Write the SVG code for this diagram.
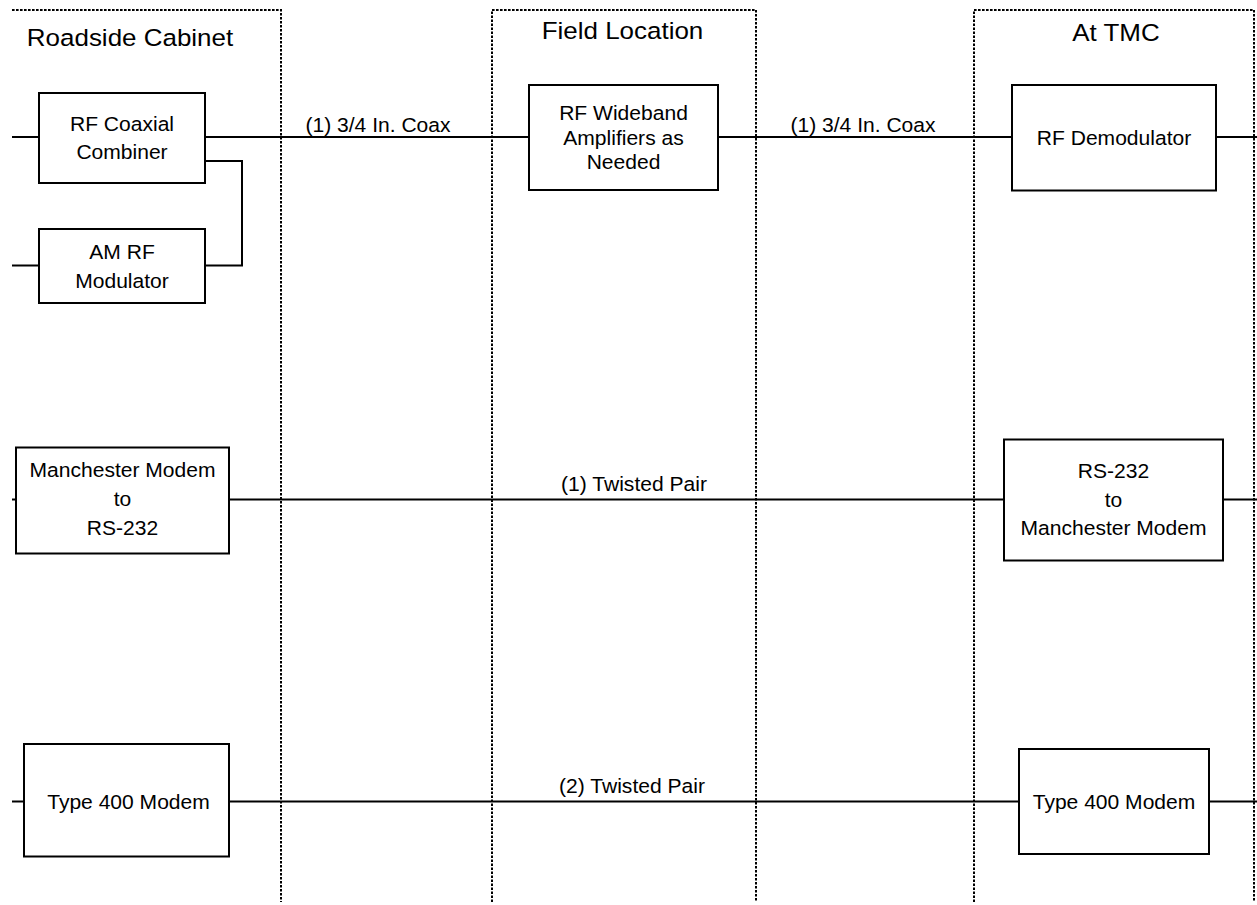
<svg xmlns="http://www.w3.org/2000/svg" width="1257" height="905" viewBox="0 0 1257 905">
<style>
.bg{fill:#fff}
.zone{fill:none;stroke:#000;stroke-width:2;stroke-dasharray:2.6,1.4}
.box{fill:#fff;stroke:#000;stroke-width:2}
.wire{fill:none;stroke:#000;stroke-width:2}
text{font-family:"Liberation Sans",Arial,Helvetica,sans-serif;fill:#000;text-anchor:middle}
.t{font-size:19.5px}
.h{font-size:24.5px}
</style>
<rect class="bg" x="0" y="0" width="1257" height="905"/>
<g id="zones">
<path class="zone" d="M12,10 H281 V902"/>
<path class="zone" d="M492,902 V10 H756 V902"/>
<path class="zone" d="M974,902 V10 H1254 V902"/>
<text class="h" transform="translate(130,45.5) scale(1.06,1)">Roadside Cabinet</text>
<text class="h" transform="translate(622.5,39.3) scale(1.06,1)">Field Location</text>
<text class="h" transform="translate(1116,40.7) scale(1.06,1)">At TMC</text>
</g>
<g id="connectors">
<path class="wire" d="M12,137 H39"/>
<path class="wire" d="M205,137 H529"/>
<path class="wire" d="M718,137 H1012"/>
<path class="wire" d="M1216,137 H1257"/>
<path class="wire" d="M205,161 H242 V265.5 H205"/>
<path class="wire" d="M12,265.5 H39"/>
<path class="wire" d="M12,499.5 H16"/>
<path class="wire" d="M229,499.5 H1004"/>
<path class="wire" d="M1223,499.5 H1257"/>
<path class="wire" d="M12,801.5 H24"/>
<path class="wire" d="M229,801.5 H1019"/>
<path class="wire" d="M1209,801.5 H1257"/>
<text class="t" transform="translate(378,131.5) scale(1.08,1)">(1) 3/4 In. Coax</text>
<text class="t" transform="translate(863,131.5) scale(1.08,1)">(1) 3/4 In. Coax</text>
<text class="t" transform="translate(634,490.5) scale(1.08,1)">(1) Twisted Pair</text>
<text class="t" transform="translate(632,793) scale(1.08,1)">(2) Twisted Pair</text>
</g>
<g id="rf-coaxial-combiner">
<rect class="box" x="39" y="93" width="166" height="90"/>
<text class="t" transform="translate(122,130.5) scale(1.08,1)">RF Coaxial</text>
<text class="t" transform="translate(122,159) scale(1.08,1)">Combiner</text>
</g>
<g id="am-rf-modulator">
<rect class="box" x="39" y="229" width="166" height="74"/>
<text class="t" transform="translate(122,259) scale(1.08,1)">AM RF</text>
<text class="t" transform="translate(122,287.5) scale(1.08,1)">Modulator</text>
</g>
<g id="rf-wideband-amplifiers">
<rect class="box" x="529" y="85" width="189" height="105"/>
<text class="t" transform="translate(623.5,120) scale(1.08,1)">RF Wideband</text>
<text class="t" transform="translate(623.5,144.7) scale(1.08,1)">Amplifiers as</text>
<text class="t" transform="translate(623.5,169.3) scale(1.08,1)">Needed</text>
</g>
<g id="rf-demodulator">
<rect class="box" x="1012" y="85" width="204" height="105.5"/>
<text class="t" transform="translate(1114,145) scale(1.08,1)">RF Demodulator</text>
</g>
<g id="manchester-to-rs232">
<rect class="box" x="16" y="447.5" width="213" height="106"/>
<text class="t" transform="translate(122.5,477.3) scale(1.08,1)">Manchester Modem</text>
<text class="t" transform="translate(122.5,506) scale(1.08,1)">to</text>
<text class="t" transform="translate(122.5,535) scale(1.08,1)">RS-232</text>
</g>
<g id="rs232-to-manchester">
<rect class="box" x="1004" y="439.5" width="219" height="121"/>
<text class="t" transform="translate(1113.5,478.3) scale(1.08,1)">RS-232</text>
<text class="t" transform="translate(1113.5,506.7) scale(1.08,1)">to</text>
<text class="t" transform="translate(1113.5,535) scale(1.08,1)">Manchester Modem</text>
</g>
<g id="type400-left">
<rect class="box" x="24" y="744" width="205" height="112.5"/>
<text class="t" transform="translate(128.5,809.3) scale(1.08,1)">Type 400 Modem</text>
</g>
<g id="type400-right">
<rect class="box" x="1019" y="749" width="190" height="105"/>
<text class="t" transform="translate(1114,809) scale(1.08,1)">Type 400 Modem</text>
</g>
</svg>
